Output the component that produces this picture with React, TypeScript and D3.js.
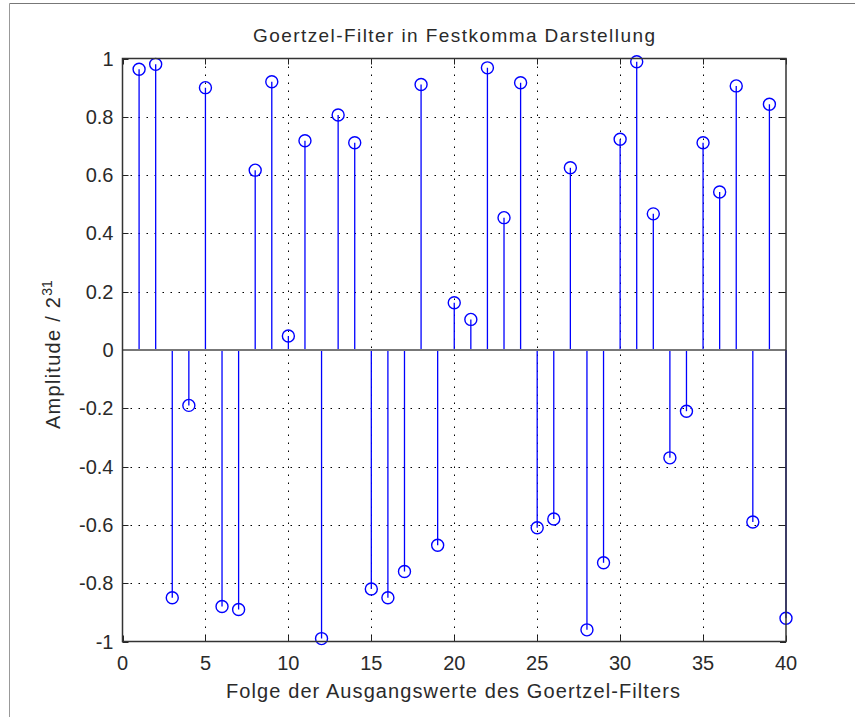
import * as d3 from "d3";
import { useEffect, useRef } from "react";

const indices = d3.range(1, 41);
const amplitudes = [
  0.963, 0.98, -0.85, -0.19, 0.9, -0.88, -0.89, 0.617, 0.92, 0.048,
  0.718, -0.99, 0.806, 0.711, -0.82, -0.85, -0.76, 0.911, -0.67, 0.162,
  0.105, 0.968, 0.454, 0.917, -0.61, -0.58, 0.625, -0.96, -0.73, 0.723,
  0.989, 0.467, -0.37, -0.21, 0.711, 0.542, 0.906, -0.59, 0.843, -0.92,
];
const xTicks = [0, 5, 10, 15, 20, 25, 30, 35, 40];
const yTicks = [-1, -0.8, -0.6, -0.4, -0.2, 0, 0.2, 0.4, 0.6, 0.8, 1];

export default function App() {
  const svgRef = useRef<SVGSVGElement | null>(null);

  useEffect(() => {
    const width = 855;
    const height = 717;
    const margin = { top: 58.5, right: 69, bottom: 75.5, left: 122.5 };
    const font = "'Liberation Sans', Arial, sans-serif";
    const ink = "#2a2a2a";

    const svg = d3.select(svgRef.current);
    svg.selectAll("*").remove();
    svg.attr("width", width).attr("height", height);

    svg.append("rect").attr("width", width).attr("height", height).attr("fill", "#fff");

    // outer frame (top + left)
    svg.append("line").attr("x1", 9.5).attr("x2", 855).attr("y1", 3.5).attr("y2", 3.5)
      .attr("stroke", "#777").attr("stroke-width", 1);
    svg.append("line").attr("x1", 9.5).attr("x2", 9.5).attr("y1", 3.5).attr("y2", 717)
      .attr("stroke", "#999").attr("stroke-width", 1);

    const x = d3.scaleLinear().domain([0, 40]).range([margin.left, width - margin.right]);
    const y = d3.scaleLinear().domain([-1, 1]).range([height - margin.bottom, margin.top]);

    const x0 = x(0), x1 = x(40), yTop = y(1), yBot = y(-1);

    // grid
    const grid = svg.append("g").attr("stroke", "#000").attr("stroke-width", 1)
      .attr("stroke-dasharray", "1.5,6.5");
    grid.selectAll("line.gx")
      .data(xTicks.filter((t) => t > 0 && t < 40))
      .join("line")
      .attr("x1", (d) => Math.round(x(d)) + 0.5).attr("x2", (d) => Math.round(x(d)) + 0.5)
      .attr("y1", yTop).attr("y2", yBot);
    grid.selectAll("line.gy")
      .data(yTicks.filter((t) => t > -1 && t < 1 && t !== 0))
      .join("line")
      .attr("x1", x0).attr("x2", x1)
      .attr("y1", (d) => Math.round(y(d)) + 0.5).attr("y2", (d) => Math.round(y(d)) + 0.5);

    // ticks (inside, all four sides)
    const tk = svg.append("g").attr("stroke", "#222").attr("stroke-width", 1);
    xTicks.forEach((t) => {
      const px = Math.round(x(t)) + 0.5;
      tk.append("line").attr("x1", px).attr("x2", px).attr("y1", yBot).attr("y2", yBot - 6);
      tk.append("line").attr("x1", px).attr("x2", px).attr("y1", yTop).attr("y2", yTop + 6);
    });
    yTicks.forEach((t) => {
      const py = Math.round(y(t)) + 0.5;
      tk.append("line").attr("x1", x0).attr("x2", x0 + 6).attr("y1", py).attr("y2", py);
      tk.append("line").attr("x1", x1).attr("x2", x1 - 6).attr("y1", py).attr("y2", py);
    });

    // stems
    const data = indices.map((i, k) => ({ i, v: amplitudes[k] }));
    svg.append("g").selectAll("line")
      .data(data)
      .join("line")
      .attr("x1", (d) => x(d.i)).attr("x2", (d) => x(d.i))
      .attr("y1", y(0)).attr("y2", (d) => y(d.v))
      .attr("stroke", "#0000ff").attr("stroke-width", 1.3);

    // baseline
    svg.append("line").attr("x1", x0).attr("x2", x1)
      .attr("y1", y(0)).attr("y2", y(0))
      .attr("stroke", "#777").attr("stroke-width", 2);

    // markers
    svg.append("g").selectAll("circle")
      .data(data)
      .join("circle")
      .attr("cx", (d) => x(d.i)).attr("cy", (d) => y(d.v))
      .attr("r", 6)
      .attr("fill", "none")
      .attr("stroke", "#0000ff").attr("stroke-width", 1.4);

    // axes box
    svg.append("rect").attr("x", x0).attr("y", yTop)
      .attr("width", x1 - x0).attr("height", yBot - yTop)
      .attr("fill", "none").attr("stroke", "#333").attr("stroke-width", 1.5);

    // tick labels
    svg.append("g").selectAll("text")
      .data(xTicks)
      .join("text")
      .attr("x", (d) => x(d)).attr("y", yBot + 28)
      .attr("text-anchor", "middle")
      .attr("font-family", font).attr("font-size", 20).attr("fill", ink)
      .text((d) => String(d));
    svg.append("g").selectAll("text")
      .data(yTicks)
      .join("text")
      .attr("x", x0 - 9).attr("y", (d) => y(d) + 7)
      .attr("text-anchor", "end")
      .attr("font-family", font).attr("font-size", 20).attr("fill", ink)
      .text((d) => String(d));

    // title
    svg.append("text")
      .attr("x", 454).attr("y", 42)
      .attr("text-anchor", "middle")
      .attr("font-family", font).attr("font-size", 19).attr("fill", ink)
      .attr("textLength", 402).attr("lengthAdjust", "spacing")
      .text("Goertzel-Filter in Festkomma Darstellung");

    // x label
    svg.append("text")
      .attr("x", 453).attr("y", 698)
      .attr("text-anchor", "middle")
      .attr("font-family", font).attr("font-size", 20).attr("fill", ink)
      .attr("textLength", 454).attr("lengthAdjust", "spacing")
      .text("Folge der Ausgangswerte des Goertzel-Filters");

    // y label
    const yl = svg.append("text")
      .attr("transform", `translate(60,429) rotate(-90)`)
      .attr("text-anchor", "start")
      .attr("font-family", font).attr("font-size", 20).attr("fill", ink);
    yl.append("tspan").attr("textLength", 132).attr("lengthAdjust", "spacing").text("Amplitude / 2");
    yl.append("tspan").attr("dy", -8).attr("font-size", 14).text("31");
  }, []);

  return (
    <svg ref={svgRef} style={{ position: "absolute", left: 0, top: 0, display: "block" }}></svg>
  );
}
